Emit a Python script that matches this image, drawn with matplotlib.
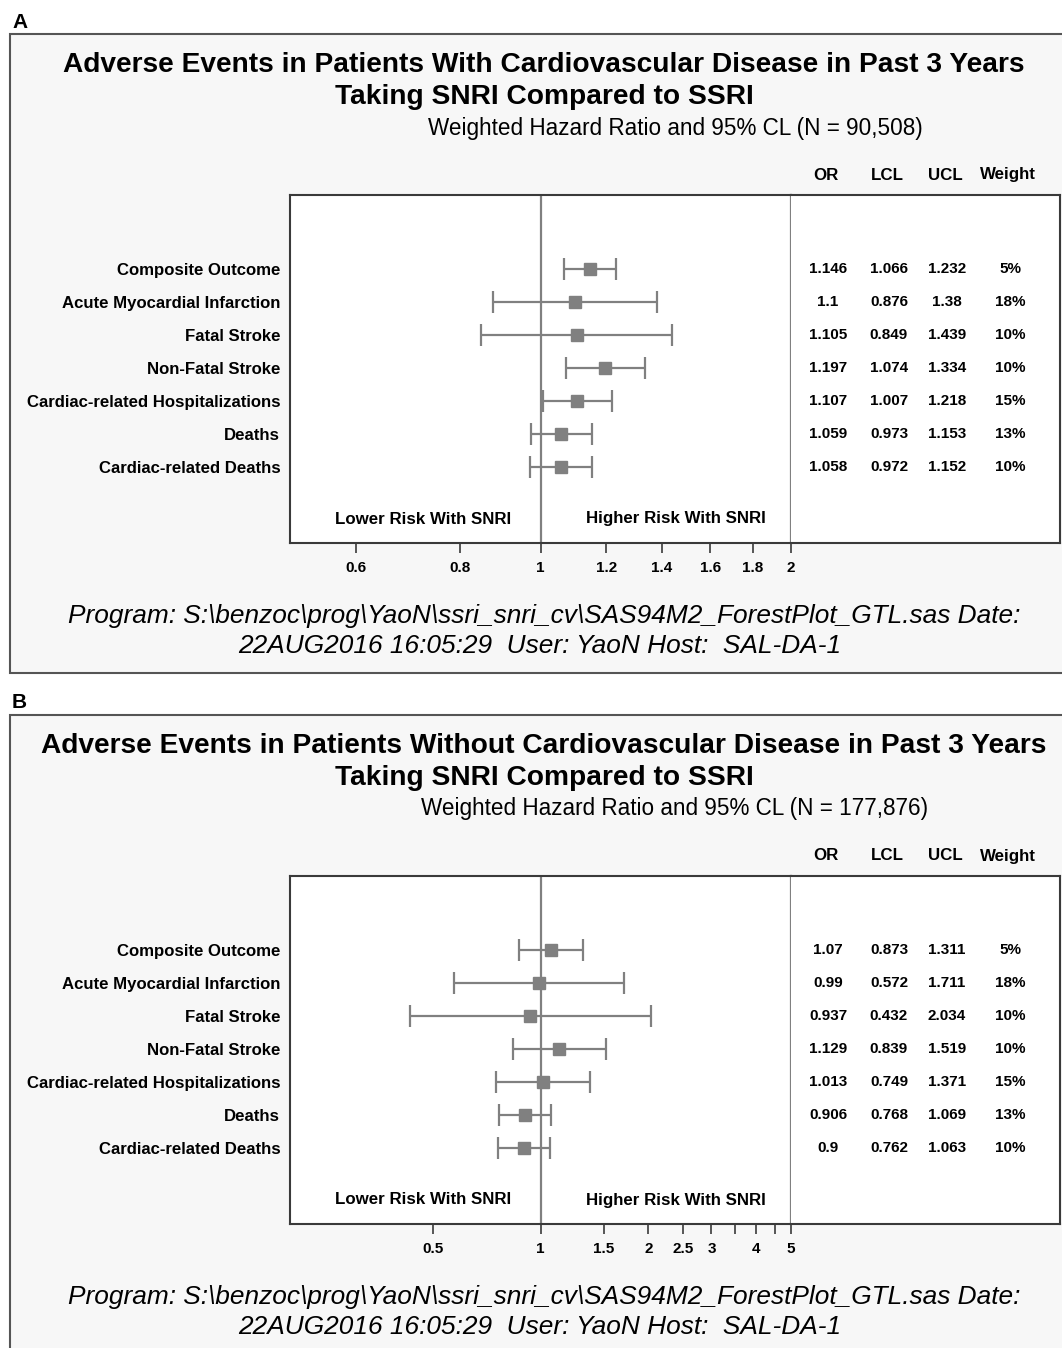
import matplotlib
matplotlib.use("Agg")
import matplotlib.pyplot as plt
from matplotlib.patches import Rectangle
from matplotlib.ticker import FixedLocator, FixedFormatter, NullLocator

plt.rcParams['font.family'] = ['Liberation Sans', 'DejaVu Sans']

# ---------------- data ----------------
outcomes = ["Composite Outcome", "Acute Myocardial Infarction", "Fatal Stroke",
            "Non-Fatal Stroke", "Cardiac-related Hospitalizations", "Deaths",
            "Cardiac-related Deaths"]
weights = ["5%", "18%", "10%", "10%", "15%", "13%", "10%"]

a_or = [1.146, 1.1, 1.105, 1.197, 1.107, 1.059, 1.058]
a_lcl = [1.066, 0.876, 0.849, 1.074, 1.007, 0.973, 0.972]
a_ucl = [1.232, 1.38, 1.439, 1.334, 1.218, 1.153, 1.152]
a_or_txt = ["1.146", "1.1", "1.105", "1.197", "1.107", "1.059", "1.058"]
a_lcl_txt = ["1.066", "0.876", "0.849", "1.074", "1.007", "0.973", "0.972"]
a_ucl_txt = ["1.232", "1.38", "1.439", "1.334", "1.218", "1.153", "1.152"]
a_ticks = [0.6, 0.8, 1, 1.2, 1.4, 1.6, 1.8, 2]
a_ticklabels = ["0.6", "0.8", "1", "1.2", "1.4", "1.6", "1.8", "2"]
a_xlim = (0.5, 2)

b_or = [1.07, 0.99, 0.937, 1.129, 1.013, 0.906, 0.9]
b_lcl = [0.873, 0.572, 0.432, 0.839, 0.749, 0.768, 0.762]
b_ucl = [1.311, 1.711, 2.034, 1.519, 1.371, 1.069, 1.063]
b_or_txt = ["1.07", "0.99", "0.937", "1.129", "1.013", "0.906", "0.9"]
b_lcl_txt = ["0.873", "0.572", "0.432", "0.839", "0.749", "0.768", "0.762"]
b_ucl_txt = ["1.311", "1.711", "2.034", "1.519", "1.371", "1.069", "1.063"]
b_ticks = [0.5, 1, 1.5, 2, 2.5, 3, 3.5, 4, 4.5, 5]
b_ticklabels = ["0.5", "1", "1.5", "2", "2.5", "3", "", "4", "", "5"]
b_xlim = (0.2, 5)

col_headers = ["OR", "LCL", "UCL", "Weight"]

titles_a = ["Adverse Events in Patients With Cardiovascular Disease in Past 3 Years",
            "Taking SNRI Compared to SSRI"]
titles_b = ["Adverse Events in Patients Without Cardiovascular Disease in Past 3 Years",
            "Taking SNRI Compared to SSRI"]
sub_a = "Weighted Hazard Ratio and 95% CL (N = 90,508)"
sub_b = "Weighted Hazard Ratio and 95% CL (N = 177,876)"
footer = [r"Program: S:\benzoc\prog\YaoN\ssri_snri_cv\SAS94M2_ForestPlot_GTL.sas Date:",
          r"22AUG2016 16:05:29  User: YaoN Host:  SAL-DA-1"]

# ---------------- layout helpers ----------------
W, H = 1062, 1348
fig = plt.figure(figsize=(W / 100, H / 100), dpi=100)
fig.patch.set_facecolor("white")
renderer = fig.canvas.get_renderer()


def fx(x):
    return x / W


def fy(y):
    return 1 - y / H


def fit(t, target):
    w = t.get_window_extent(renderer).width
    t.set_fontsize(t.get_fontsize() * target / w)
    return t.get_fontsize()


GREY = "#808080"
DARK = "#3a3a3a"

# determine text sizes from measured widths in the reference
probe = fig.text(0, 0, titles_a[0], fontsize=20, fontweight="bold")
title_fs = fit(probe, 960)
probe.remove()
probe = fig.text(0, 0, sub_a, fontsize=16)
sub_fs = fit(probe, 495)
probe.remove()
probe = fig.text(0, 0, footer[0], fontsize=18, style="italic")
foot_fs = fit(probe, 952)
probe.remove()
probe = fig.text(0, 0, outcomes[4], fontsize=12, fontweight="bold")
lab_fs = fit(probe, 253)
probe.remove()
probe = fig.text(0, 0, "Weight", fontsize=12, fontweight="bold")
head_fs = fit(probe, 56)
probe.remove()
probe = fig.text(0, 0, "1.146", fontsize=11, fontweight="bold")
val_fs = fit(probe, 38)
probe.remove()
probe = fig.text(0, 0, "Lower Risk With SNRI", fontsize=11, fontweight="bold")
risk_fs = fit(probe, 177)
probe.remove()


def panel(dy, letter, titles, sub, orv, lcl, ucl, ortxt, lcltxt, ucltxt,
          ticks, ticklabels, xlim, bottom_open):
    # outer panel frame
    top = 34 + dy
    bot = 673 + dy if not bottom_open else H + 40
    fig.patches.append(Rectangle((fx(10), fy(bot)), fx(1100), (bot - top) / H,
                                 transform=fig.transFigure, facecolor="#f7f7f7",
                                 edgecolor="#555555", lw=1.5, zorder=-10))
    fig.text(fx(12), fy(22 + dy), letter, fontsize=15, fontweight="bold",
             ha="left", va="center")
    fig.text(fx(544), fy(65 + dy), titles[0], fontsize=title_fs, fontweight="bold",
             ha="center", va="center")
    fig.text(fx(544), fy(97 + dy), titles[1], fontsize=title_fs, fontweight="bold",
             ha="center", va="center")
    fig.text(fx(675), fy(128 + dy), sub, fontsize=sub_fs, ha="center", va="center")

    # plot axes
    ax = fig.add_axes([fx(290), fy(543 + dy), (791 - 290) / W, (543 - 195) / H])
    ax.set_zorder(2)
    n = len(orv)
    rows = list(range(n))
    ax.set_xscale("log")
    ax.set_xlim(*xlim)
    ax.set_ylim(n - 1 + 76 / 33, -74 / 33)
    ax.axvline(1, color=GREY, lw=1.6, zorder=1)
    xerr = [[o - l for o, l in zip(orv, lcl)], [u - o for o, u in zip(orv, ucl)]]
    ax.errorbar(orv, rows, xerr=xerr, fmt="s", color=GREY, ms=8.5, mec=GREY,
                ecolor=GREY, elinewidth=1.6, capsize=8, capthick=1.6, zorder=3)
    ax.xaxis.set_major_locator(FixedLocator(ticks))
    ax.xaxis.set_major_formatter(FixedFormatter(ticklabels))
    ax.xaxis.set_minor_locator(NullLocator())
    ax.tick_params(axis="x", direction="out", length=7, width=1.2, color=DARK,
                   pad=6, labelsize=val_fs)
    for lab in ax.get_xticklabels():
        lab.set_fontweight("bold")
    ax.set_yticks(rows)
    ax.set_yticklabels(outcomes, fontsize=lab_fs, fontweight="bold")
    ax.tick_params(axis="y", length=0, pad=7)
    for s in ["left", "top", "bottom"]:
        ax.spines[s].set_color(DARK)
        ax.spines[s].set_linewidth(1.5)
    ax.spines["right"].set_color(GREY)
    ax.spines["right"].set_linewidth(1.6)
    ax.text((423 - 290) / 501, (543 - 519) / 348, "Lower Risk With SNRI",
            transform=ax.transAxes, ha="center", va="center", fontsize=risk_fs,
            fontweight="bold")
    ax.text((676 - 290) / 501, (543 - 519) / 348, "Higher Risk With SNRI",
            transform=ax.transAxes, ha="center", va="center", fontsize=risk_fs,
            fontweight="bold")

    # table axes
    tx = fig.add_axes([fx(791), fy(543 + dy), (1060 - 791) / W, (543 - 195) / H])
    tx.set_zorder(2)
    tx.set_xlim(791, 1060)
    tx.set_ylim(ax.get_ylim())
    tx.set_xticks([])
    tx.set_yticks([])
    tx.spines["left"].set_visible(False)
    for s in ["right", "top", "bottom"]:
        tx.spines[s].set_color(DARK)
        tx.spines[s].set_linewidth(1.5)
    cols_x = [828, 889, 947, 1010]
    for cx, h in zip(cols_x, col_headers):
        fig.text(fx(cx - 2), fy(175 + dy), h, ha="center", va="center",
                 fontsize=head_fs, fontweight="bold")
    for i in rows:
        for cx, val in zip(cols_x, [ortxt[i], lcltxt[i], ucltxt[i], weights[i]]):
            tx.text(cx, i, val, ha="center", va="center", fontsize=val_fs,
                    fontweight="bold")

    # footer
    fig.text(fx(544), fy(616 + dy), footer[0], fontsize=foot_fs, style="italic",
             ha="center", va="center")
    fig.text(fx(540), fy(646 + dy), footer[1], fontsize=foot_fs, style="italic",
             ha="center", va="center")


panel(0, "A", titles_a, sub_a, a_or, a_lcl, a_ucl, a_or_txt, a_lcl_txt, a_ucl_txt,
      a_ticks, a_ticklabels, a_xlim, False)
panel(681, "B", titles_b, sub_b, b_or, b_lcl, b_ucl, b_or_txt, b_lcl_txt, b_ucl_txt,
      b_ticks, b_ticklabels, b_xlim, True)

fig.savefig("out.png", dpi=100, facecolor="white")
